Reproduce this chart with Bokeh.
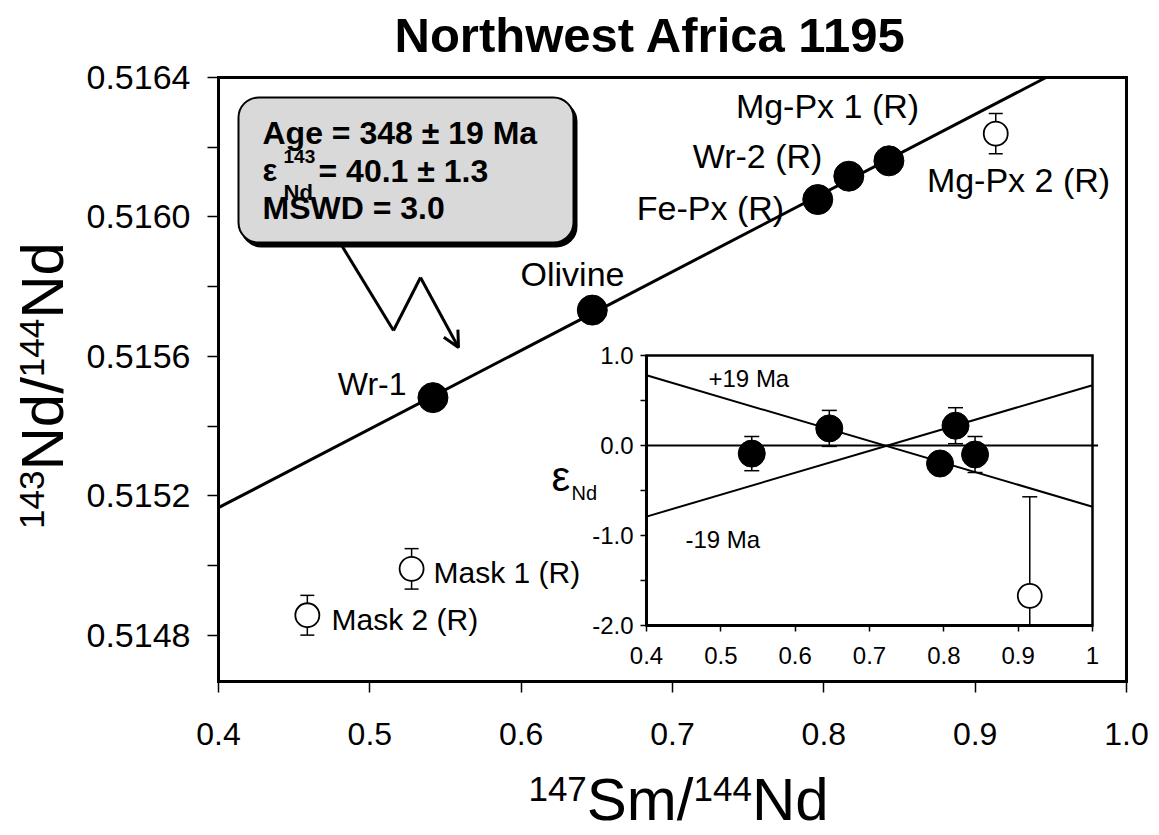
import math
from bokeh.plotting import figure
from bokeh.models import (Range1d, LinearAxis, FixedTicker, PrintfTickFormatter, Label,
                          BoxAnnotation, Arrow, OpenHead, ColumnDataSource)
from bokeh.embed import file_html
from bokeh.resources import INLINE

FONT = "Liberation Sans"

# ---------------- data ----------------
chart_title = "Northwest Africa 1195"

fit_labels = ["Wr-1", "Olivine", "Fe-Px (R)", "Wr-2 (R)", "Mg-Px 1 (R)"]
fit_sm = [0.5417, 0.6470, 0.7960, 0.8165, 0.8430]
fit_nd = [0.515482, 0.515733, 0.516050, 0.516117, 0.516161]

excluded_labels = ["Mg-Px 2 (R)", "Mask 1 (R)", "Mask 2 (R)"]
excluded_sm = [0.9136, 0.5276, 0.4587]
excluded_nd = [0.516239, 0.514991, 0.514858]
excluded_err = [0.000058, 0.000058, 0.000057]

isochron_slope = 0.002256
isochron_intercept = 0.514264

x_ticks = [0.4, 0.5, 0.6, 0.7, 0.8, 0.9, 1.0]
y_ticks = [0.5148, 0.5152, 0.5156, 0.5160, 0.5164]
y_minor_ticks = [0.5150, 0.5154, 0.5158, 0.5162]
y_bottom = 0.514668

inset_sm = [0.5416, 0.6459, 0.7949, 0.8157, 0.8420]
inset_eps = [-0.09, 0.19, -0.20, 0.22, -0.10]
inset_err = [0.19, 0.20, 0.10, 0.20, 0.20]
inset_open_sm = [0.9156]
inset_open_eps = [-1.67]
inset_open_err = [1.10]
plus19_sm = [0.4, 1.0]
plus19_eps = [0.78, -0.68]
minus19_sm = [0.4, 1.0]
minus19_eps = [-0.79, 0.67]
zero_ref_sm = [0.4, 1.0075]
zero_ref_eps = [0.0, 0.0]
inset_x_ticks = [0.4, 0.5, 0.6, 0.7, 0.8, 0.9, 1.0]
inset_y_ticks = [-2.0, -1.0, 0.0, 1.0]
inset_y_minor_ticks = [-1.5, -0.5, 0.5]

age_text = "Age = 348 ± 19 Ma"
eps_text = ["ε", "143", "Nd", "= 40.1 ± 1.3"]
mswd_text = "MSWD = 3.0"

# ---------------- layout (page pixels) ----------------
W, H = 1151, 834
FL, FR, FT, FB = 218, 1126, 77, 681          # main plot box
IL, IR, IT, IB = 646, 1092, 355, 625         # inset box
KB = 0.34                                    # text baseline correction (em)

X0, X1 = x_ticks[0], x_ticks[-1]
Y0, Y1 = y_bottom, y_ticks[-1]
sx = (X1 - X0) / (FR - FL)
sy = (Y1 - Y0) / (FB - FT)


def DX(px):
    return X0 + (px - FL) * sx


def DY(py):
    return Y1 - (py - FT) * sy


ix0, ix1 = inset_x_ticks[0], inset_x_ticks[-1]
iy0, iy1 = inset_y_ticks[0], inset_y_ticks[-1]
isx = (ix1 - ix0) / (IR - IL)
isy = (iy1 - iy0) / (IB - IT)


def IX(px):
    return ix0 + (px - IL) * isx


def IY(py):
    return iy1 - (py - IT) * isy


p = figure(width=W, height=H, output_backend="svg", toolbar_location=None,
           x_range=Range1d(DX(0), DX(W)), y_range=Range1d(DY(H), DY(0)),
           x_axis_type=None, y_axis_type=None,
           min_border_left=0, min_border_right=0, min_border_top=0, min_border_bottom=0)
p.title.visible = False
p.extra_x_ranges = {"ix": Range1d(IX(0), IX(W))}
p.extra_y_ranges = {"iy": Range1d(IY(H), IY(0))}
p.background_fill_color = "white"
p.border_fill_color = "white"
p.outline_line_color = None


def text(px, py, s, size, align="left", bold=False, angle=0.0):
    """Place a text annotation with its baseline at page pixel (px, py)."""
    if angle:
        px = px - KB * size
    else:
        py = py - KB * size
    p.add_layout(Label(x=DX(px), y=DY(py), text=s, text_align=align, text_baseline="alphabetic",
                       text_font=FONT, text_font_size=f"{size}px", text_color="black",
                       text_font_style="bold" if bold else "normal", angle=angle))


# ---------------- main axes ----------------
xa = LinearAxis(fixed_location=Y0, bounds=(X0, X1),
                ticker=FixedTicker(ticks=x_ticks), formatter=PrintfTickFormatter(format="%.1f"))
ya = LinearAxis(fixed_location=X0, bounds=(Y0, Y1),
                ticker=FixedTicker(ticks=y_ticks, minor_ticks=y_minor_ticks),
                formatter=PrintfTickFormatter(format="%.4f"))
for ax in (xa, ya):
    ax.axis_line_width = 3
    ax.major_tick_line_width = 1.5
    ax.minor_tick_line_width = 1.5
    ax.major_tick_in = 0
    ax.major_tick_out = 11
    ax.minor_tick_in = 0
    ax.minor_tick_out = 11
    ax.major_label_text_font = FONT
    ax.major_label_text_color = "black"
xa.major_label_text_font_size = "32px"
ya.major_label_text_font_size = "34px"
xa.minor_tick_line_color = None
xa.major_label_standoff = 30
ya.major_label_standoff = 17
p.add_layout(xa, "below")
p.add_layout(ya, "left")
p.quad(left=[X0], right=[X1], bottom=[Y0], top=[Y1], fill_color=None,
       line_color="black", line_width=3, line_join="miter")

# ---------------- inset axes ----------------
iya = LinearAxis(x_range_name="ix", y_range_name="iy", fixed_location=ix0, bounds=(iy0, iy1),
                 ticker=FixedTicker(ticks=inset_y_ticks, minor_ticks=inset_y_minor_ticks),
                 formatter=PrintfTickFormatter(format="%.1f"))
ixa = LinearAxis(x_range_name="ix", y_range_name="iy", fixed_location=iy0, bounds=(ix0, ix1),
                 ticker=FixedTicker(ticks=inset_x_ticks),
                 formatter=PrintfTickFormatter(format="%.1f"),
                 major_label_overrides={1.0: "1"})
for ax in (iya, ixa):
    ax.axis_line_width = 3
    ax.major_tick_line_width = 1.5
    ax.minor_tick_line_width = 1.5
    ax.major_tick_in = 0
    ax.major_tick_out = 6
    ax.minor_tick_in = 0
    ax.minor_tick_out = 6
    ax.major_label_text_font = FONT
    ax.major_label_text_font_size = "24px"
    ax.major_label_text_color = "black"
ixa.minor_tick_line_color = None
iya.major_label_standoff = 7
ixa.major_label_standoff = 15
p.add_layout(iya, "left")
p.add_layout(ixa, "below")

# ---------------- main plot marks ----------------
iso_x = [X0, min(X1, (Y1 - isochron_intercept) / isochron_slope)]
iso_y = [isochron_intercept + isochron_slope * v for v in iso_x]
p.line(iso_x, iso_y, line_color="black", line_width=3)

ex_src = ColumnDataSource(dict(
    x=excluded_sm, y=excluded_nd,
    lo=[v - e for v, e in zip(excluded_nd, excluded_err)],
    hi=[v + e for v, e in zip(excluded_nd, excluded_err)]))
p.segment(x0="x", y0="lo", x1="x", y1="hi", source=ex_src, line_color="black", line_width=1.5)
p.scatter(x="x", y="lo", source=ex_src, marker="dash", size=14, line_color="black", line_width=1.5)
p.scatter(x="x", y="hi", source=ex_src, marker="dash", size=14, line_color="black", line_width=1.5)
p.scatter(x="x", y="y", source=ex_src, marker="circle", size=24,
          fill_color="white", line_color="black", line_width=1.8)

p.scatter(fit_sm, fit_nd, marker="circle", size=30, fill_color="black", line_color="black")

lab_pos = {
    "Wr-1": (406, 394, "right", 32),
    "Olivine": (572, 285, "center", 34),
    "Fe-Px (R)": (710, 219, "center", 34),
    "Wr-2 (R)": (757, 167, "center", 34),
    "Mg-Px 1 (R)": (827, 117, "center", 34),
    "Mg-Px 2 (R)": (1018, 191, "center", 34),
    "Mask 1 (R)": (433, 582, "left", 30),
    "Mask 2 (R)": (331, 629, "left", 30),
}
for name in fit_labels + excluded_labels:
    px, py, al, fs = lab_pos[name]
    text(px, py, name, fs, align=al)

# ---------------- inset marks ----------------
p.quad(left=[ix0], right=[ix1], bottom=[iy0], top=[iy1], x_range_name="ix", y_range_name="iy",
       fill_color=None, line_color="black", line_width=2.5, line_join="miter")
p.line(zero_ref_sm, zero_ref_eps, x_range_name="ix", y_range_name="iy", line_color="black", line_width=2)
p.line(plus19_sm, plus19_eps, x_range_name="ix", y_range_name="iy", line_color="black", line_width=2)
p.line(minus19_sm, minus19_eps, x_range_name="ix", y_range_name="iy", line_color="black", line_width=2)

in_src = ColumnDataSource(dict(
    x=inset_sm, y=inset_eps,
    lo=[v - e for v, e in zip(inset_eps, inset_err)],
    hi=[v + e for v, e in zip(inset_eps, inset_err)]))
p.segment(x0="x", y0="lo", x1="x", y1="hi", source=in_src, x_range_name="ix", y_range_name="iy",
          line_color="black", line_width=1.5)
p.scatter(x="x", y="lo", source=in_src, marker="dash", size=15, x_range_name="ix", y_range_name="iy",
          line_color="black", line_width=1.5)
p.scatter(x="x", y="hi", source=in_src, marker="dash", size=15, x_range_name="ix", y_range_name="iy",
          line_color="black", line_width=1.5)

op_src = ColumnDataSource(dict(
    x=inset_open_sm, y=inset_open_eps,
    lo=[max(iy0, v - e) for v, e in zip(inset_open_eps, inset_open_err)],
    hi=[v + e for v, e in zip(inset_open_eps, inset_open_err)]))
p.segment(x0="x", y0="lo", x1="x", y1="hi", source=op_src, x_range_name="ix", y_range_name="iy",
          line_color="black", line_width=1.5)
p.scatter(x="x", y="hi", source=op_src, marker="dash", size=15, x_range_name="ix", y_range_name="iy",
          line_color="black", line_width=1.5)
p.scatter(x="x", y="y", source=op_src, marker="circle", size=24, x_range_name="ix", y_range_name="iy",
          fill_color="white", line_color="black", line_width=1.8)
p.scatter(x="x", y="y", source=in_src, marker="circle", size=27, x_range_name="ix", y_range_name="iy",
          fill_color="black", line_color="black")

text(708, 386, "+19 Ma", 24)
text(685, 547, "-19 Ma", 24)
text(551, 490, "ε", 42)
text(571, 499, "Nd", 20)

# ---------------- callout box ----------------
BL, BR, BT, BB = 238, 573, 97, 242
p.add_layout(BoxAnnotation(left=DX(BL + 3), right=DX(BR + 3), top=DY(BT + 4), bottom=DY(BB + 4),
                           fill_color="black", fill_alpha=1, line_color="black", line_alpha=1,
                           line_width=2, border_radius=20))
p.add_layout(BoxAnnotation(left=DX(BL), right=DX(BR), top=DY(BT), bottom=DY(BB),
                           fill_color="#d9d9d9", fill_alpha=1, line_color="black", line_alpha=1,
                           line_width=2, border_radius=20))

text(262, 143, age_text, 32, bold=True)
text(262, 181, eps_text[0], 31, bold=True)
text(283, 162, eps_text[1], 19, bold=True)
text(283, 199, eps_text[2], 22, bold=True)
text(318, 181, eps_text[3], 32, bold=True)
text(262, 218, mswd_text, 32, bold=True)

callout = [(340, 243), (393, 330), (420, 277), (458, 347)]
for i in range(len(callout) - 1):
    (ax_, ay_), (bx_, by_) = callout[i], callout[i + 1]
    last = i == len(callout) - 2
    p.add_layout(Arrow(x_start=DX(ax_), y_start=DY(ay_), x_end=DX(bx_), y_end=DY(by_),
                       line_width=3, line_color="black",
                       end=OpenHead(size=16, line_width=3, line_color="black") if last else None))

# ---------------- titles ----------------
text(650, 51, chart_title, 49, align="center", bold=True)

AW = {'0': 556, '1': 556, '2': 556, '3': 556, '4': 556, '5': 556, '6': 556, '7': 556, '8': 556,
      '9': 556, '.': 278, 'S': 667, 'm': 833, '/': 278, 'N': 722, 'd': 556}


def tw(s, size):
    return sum(AW[c] for c in s) / 1000.0 * size


BIG, SUP = 60, 35
x_title = [("147", SUP), ("Sm/", BIG), ("144", SUP), ("Nd", BIG)]
y_title = [("143", SUP), ("Nd/", BIG), ("144", SUP), ("Nd", BIG)]

total = sum(tw(s, f) for s, f in x_title)
cx = 678 - total / 2
for s, f in x_title:
    text(cx, 819 if f == BIG else 800, s, f)
    cx += tw(s, f)

total = sum(tw(s, f) for s, f in y_title)
cy = 385 + total / 2
for s, f in y_title:
    text(62 if f == BIG else 43, cy, s, f, angle=math.pi / 2)
    cy -= tw(s, f)

open("out.html", "w").write(file_html(p, INLINE))
